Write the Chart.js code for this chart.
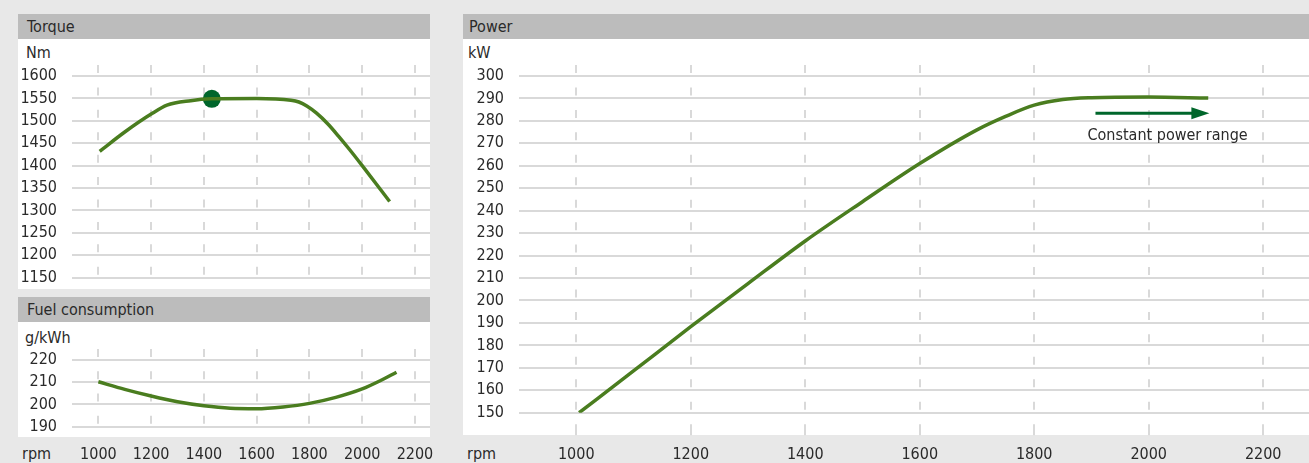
<!DOCTYPE html>
<html>
<head>
<meta charset="utf-8">
<script src="https://cdn.jsdelivr.net/npm/chart.js@4/dist/chart.umd.min.js"></script>
<style>
  html, body { margin:0; padding:0; }
  body { width:1309px; height:463px; background:#e8e8e8; position:relative; overflow:hidden;
         font-family:'DejaVu Sans Condensed','DejaVu Sans',sans-serif; color:#2a2a2a; }
  .hdr { position:absolute; background:#bcbcbc; height:25px; line-height:25px; font-size:16px; padding-left:9px; box-sizing:border-box; }
  .body { position:absolute; background:#ffffff; }
  .unit { position:absolute; font-size:16px; line-height:20px; }
  .wrap { position:absolute; }
</style>
</head>
<body>
<div class="hdr" style="left:18px;top:14px;width:412px;">Torque</div>
<div class="body" style="left:18px;top:39px;width:412px;height:250px;"></div>
<div class="unit" style="left:26px;top:43px;">Nm</div>

<div class="hdr" style="left:18px;top:297px;width:412px;">Fuel consumption</div>
<div class="body" style="left:18px;top:322px;width:412px;height:115px;"></div>
<div class="unit" style="left:25px;top:328px;">g/kWh</div>
<div class="unit" style="left:22px;top:444px;">rpm</div>

<div class="hdr" style="left:463px;top:14px;width:846px;padding-left:6px;">Power</div>
<div class="body" style="left:463px;top:39px;width:846px;height:396px;"></div>
<div class="unit" style="left:468px;top:43px;">kW</div>
<div class="unit" style="left:467px;top:444px;">rpm</div>

<div class="wrap" style="left:18px;top:39px;width:412px;height:250px;"><canvas id="torque"></canvas></div>
<div class="wrap" style="left:18px;top:322px;width:422px;height:141px;"><canvas id="fuel"></canvas></div>
<div class="wrap" style="left:463px;top:39px;width:846px;height:424px;"><canvas id="power"></canvas></div>

<script>
// ---------- data ----------
const rpmTicks = [1000, 1200, 1400, 1600, 1800, 2000, 2200];

const torqueTicks = [1150, 1200, 1250, 1300, 1350, 1400, 1450, 1500, 1550, 1600];
const torqueRpm   = [1005, 1100, 1200, 1260, 1350, 1430, 1600, 1730, 1760, 1790, 1827, 1870, 1910, 1952, 2000, 2104];
const torqueNm    = [1432, 1475, 1515, 1535, 1545, 1549, 1550, 1546, 1542, 1533, 1517, 1493, 1466, 1436, 1400, 1320];
const torqueMaxRpm = [1430];
const torqueMaxNm  = [1549];

const fuelTicks = [190, 200, 210, 220];
const fuelRpm   = [1000, 1100, 1200, 1300, 1400, 1500, 1600, 1700, 1800, 1900, 2000, 2070, 2130];
const fuelGkWh  = [210.2, 206.8, 203.8, 201.2, 199.4, 198.3, 198.1, 198.9, 200.5, 203.2, 207.0, 210.8, 214.5];

const powerTicks = [150, 160, 170, 180, 190, 200, 210, 220, 230, 240, 250, 260, 270, 280, 290, 300];
const powerRpm   = [1005, 1100, 1200, 1300, 1400, 1500, 1600, 1700, 1750, 1800, 1850, 1900, 2000, 2104];
const powerKw    = [150, 168.6, 188.3, 207.5, 226.5, 244, 261, 276, 282, 287, 289.5, 290.3, 290.6, 290.2];

const rangeArrowRpm = [1907, 2106];
const rangeArrowKw  = 283.4;
const rangeLabel    = 'Constant power range';
const rangeLabelRpm = 2033;
const rangeLabelKw  = 273.3;

// ---------- styles ----------
const FONT = "'DejaVu Sans Condensed','DejaVu Sans',sans-serif";
const CURVE = '#4a7d1f';
const DARK  = '#00662b';
const GRID  = '#d9d9d9';
const TEXT  = '#2a2a2a';
Chart.defaults.font.family = FONT;
Chart.defaults.font.size = 16;
Chart.defaults.color = TEXT;

const zip = (xs, ys) => xs.map((x, i) => ({x, y: ys[i]}));

// short vertical tick marks above every horizontal grid line
const gridTicks = {
  id: 'gridTicks',
  beforeDatasetsDraw(chart, args, opts) {
    const xs = chart.scales.x, ys = chart.scales.y, ctx = chart.ctx;
    const rows = ys.ticks.map(t => ys.getPixelForValue(t.value));
    ctx.save();
    ctx.strokeStyle = GRID;
    ctx.lineWidth = 2;
    ctx.beginPath();
    rpmTicks.forEach(v => {
      const px = Math.round(xs.getPixelForValue(v));
      rows.forEach(py => { ctx.moveTo(px, py - 11); ctx.lineTo(px, py - 3); });
      if (opts.below) {
        const py = rows[0];
        ctx.moveTo(px, py + 11.5); ctx.lineTo(px, py + 22.5);
      }
    });
    ctx.stroke();
    ctx.restore();
  }
};

const powerNote = {
  id: 'powerNote',
  afterDatasetsDraw(chart) {
    if (chart.canvas.id !== 'power') return;
    const xs = chart.scales.x, ys = chart.scales.y, ctx = chart.ctx;
    const x0 = xs.getPixelForValue(rangeArrowRpm[0]);
    const x1 = xs.getPixelForValue(rangeArrowRpm[1]);
    const y  = ys.getPixelForValue(rangeArrowKw);
    ctx.save();
    ctx.strokeStyle = DARK; ctx.fillStyle = DARK; ctx.lineWidth = 3;
    ctx.beginPath(); ctx.moveTo(x0, y); ctx.lineTo(x1 - 14, y); ctx.stroke();
    ctx.beginPath(); ctx.moveTo(x1, y); ctx.lineTo(x1 - 18, y - 6); ctx.lineTo(x1 - 18, y + 6); ctx.closePath(); ctx.fill();
    ctx.fillStyle = TEXT;
    ctx.font = '16px ' + FONT;
    ctx.textAlign = 'center'; ctx.textBaseline = 'middle';
    ctx.fillText(rangeLabel, xs.getPixelForValue(rangeLabelRpm), ys.getPixelForValue(rangeLabelKw));
    ctx.restore();
  }
};

function makeChart(id, cfg) {
  return new Chart(document.getElementById(id), {
    type: 'line',
    data: { datasets: cfg.datasets },
    options: {
      responsive: true, maintainAspectRatio: false, animation: false,
      layout: { padding: cfg.padding, autoPadding: false },
      plugins: { legend: { display: false }, tooltip: { enabled: false }, gridTicks: { below: !!cfg.below } },
      elements: { point: { radius: 0 } },
      scales: {
        x: {
          type: 'linear', min: cfg.xMin, max: cfg.xMax,
          display: cfg.showX,
          grid: { display: false, drawTicks: false },
          border: { display: false },
          afterBuildTicks: s => { s.ticks = rpmTicks.map(v => ({value: v})); },
          afterFit: s => { if (cfg.showX) s.height = cfg.xHeight; s.paddingLeft = 0; s.paddingRight = 0; },
          ticks: { padding: cfg.xPad, autoSkip: false, maxRotation: 0, color: TEXT, font: {size: 16},
                   callback: v => String(v) }
        },
        y: {
          type: 'linear', min: cfg.ticks[0], max: cfg.ticks[cfg.ticks.length - 1],
          grid: { color: GRID, lineWidth: 2, drawTicks: false },
          border: { display: false },
          afterBuildTicks: s => { s.ticks = cfg.ticks.map(v => ({value: v})); },
          afterFit: s => { s.width = cfg.yWidth; s.paddingTop = 0; s.paddingBottom = 0; },
          ticks: { padding: cfg.yPad, autoSkip: false, color: TEXT, font: {size: 16},
                   callback: v => String(v) }
        }
      }
    },
    plugins: [gridTicks, powerNote]
  });
}

const lineDs = (xs, ys) => ({
  data: zip(xs, ys), borderColor: CURVE, borderWidth: 3.5, pointRadius: 0,
  cubicInterpolationMode: 'monotone', fill: false
});

makeChart('torque', {
  datasets: [
    lineDs(torqueRpm, torqueNm),
    { data: zip(torqueMaxRpm, torqueMaxNm), showLine: false, pointRadius: 9,
      pointBackgroundColor: DARK, pointBorderColor: DARK, pointBorderWidth: 0 }
  ],
  ticks: torqueTicks, xMin: 900, xMax: 2257, showX: false,
  padding: { top: 37, bottom: 11.3, left: 0, right: 0 },
  yWidth: 54, yPad: 15
});

makeChart('fuel', {
  datasets: [ lineDs(fuelRpm, fuelGkWh) ],
  ticks: fuelTicks, xMin: 900, xMax: 2257, showX: true, xHeight: 36.3, xPad: 19,
  padding: { top: 38, bottom: 0, left: 0, right: 10 },
  yWidth: 54, yPad: 15
});

makeChart('power', {
  datasets: [ lineDs(powerRpm, powerKw) ],
  ticks: powerTicks, xMin: 900, xMax: 2280, showX: true, xHeight: 50.3, xPad: 33, below: true,
  padding: { top: 37, bottom: 0, left: 0, right: 0 },
  yWidth: 56, yPad: 15
});
</script>
</body>
</html>
